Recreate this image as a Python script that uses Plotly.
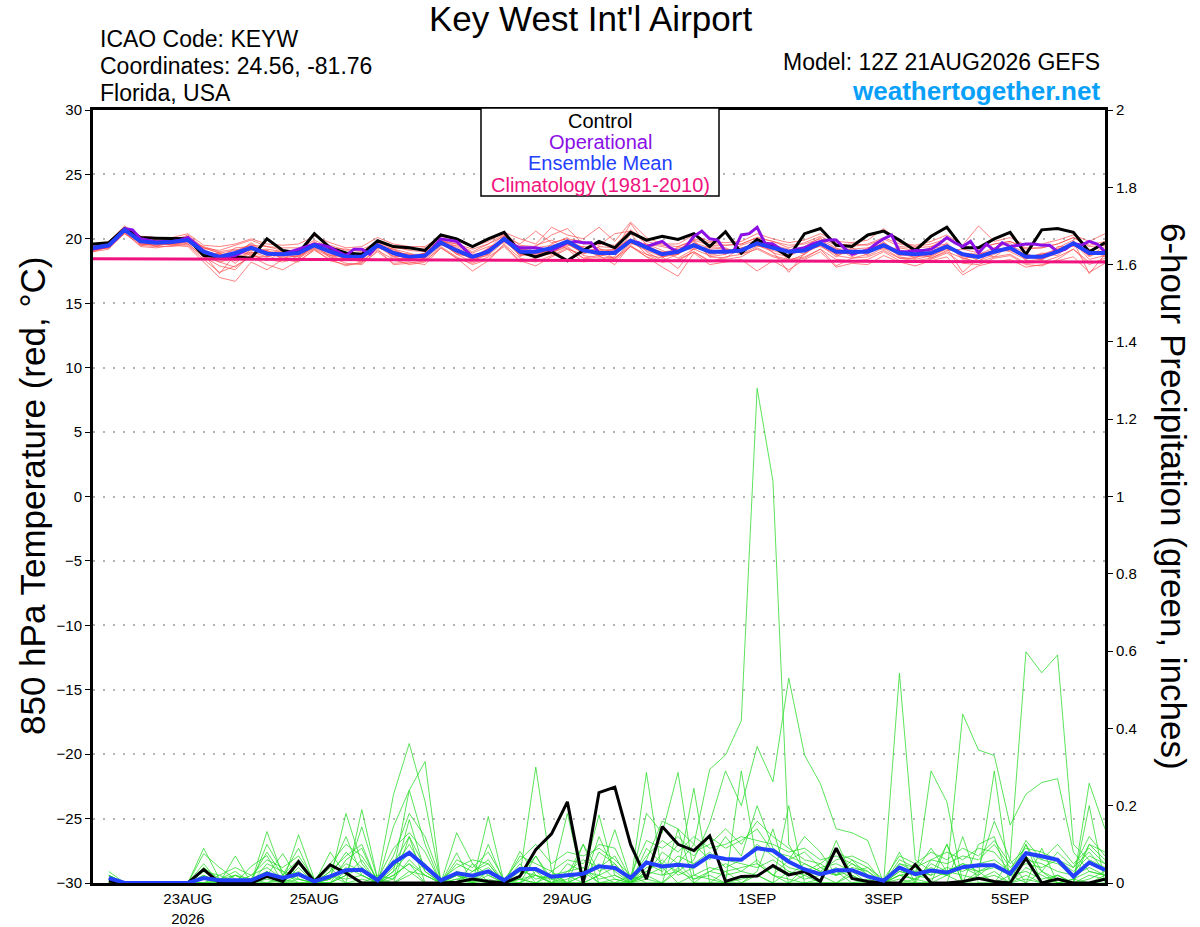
import pandas as pd
import plotly.graph_objects as go

# Ciclo GEFS 12Z 21AUG2026, pasos de 6 horas (0..384 h)
start = pd.Timestamp("2026-08-21 12:00")
end = pd.Timestamp("2026-09-06 12:00")

tick_dates = ["2026-08-23", "2026-08-25", "2026-08-27", "2026-08-29",
              "2026-09-01", "2026-09-03", "2026-09-05"]
tick_labels = ["23AUG<br>2026", "25AUG", "27AUG", "29AUG", "1SEP", "3SEP", "5SEP"]

# Temperatura 850 hPa (°C), 65 puntos cada 6 h
control_temp = [19.6, 19.7, 20.8, 20.1, 20.05, 20.0, 20.0, 18.7, 18.6, 18.6,
                18.5, 20.0, 19.1, 18.9, 20.4, 19.3, 18.9, 18.8, 19.85, 19.4,
                19.3, 19.1, 20.3, 20.0, 19.4, 20.0, 20.5, 19.0, 18.6, 19.0,
                18.3, 19.1, 19.8, 19.3, 20.5, 19.9, 20.2, 19.95, 20.4, 19.4,
                20.55, 18.9, 19.95, 19.4, 18.6, 20.4, 20.8, 19.5, 19.4, 20.3,
                20.6, 19.9, 19.1, 20.2, 20.9, 19.3, 19.3, 20.0, 20.5, 18.8,
                20.7, 20.8, 20.5, 19.0, 19.7]

mean_temp = [19.3, 19.5, 20.7, 19.8, 19.7, 19.75, 19.9, 19.0, 18.6, 18.9,
             19.3, 18.85, 18.8, 18.9, 19.5, 19.0, 18.6, 18.6, 19.5, 18.9,
             18.6, 18.7, 19.7, 19.1, 18.6, 19.0, 20.0, 19.0, 19.0, 19.3,
             19.8, 19.1, 18.9, 18.9, 19.85, 19.3, 18.8, 19.0, 19.5, 19.0,
             19.0, 19.1, 19.65, 19.3, 19.0, 19.1, 19.65, 19.0, 19.0, 19.0,
             19.5, 18.9, 18.8, 18.9, 19.4, 18.8, 18.6, 19.0, 19.3, 18.6,
             18.6, 19.0, 19.65, 18.9, 18.9]

# Operacional cada 3 h (129 puntos)
oper_temp = [19.2, 19.3, 19.45, 20.0, 20.8, 20.7, 20.0, 19.9, 19.75, 19.8,
             19.8, 19.9, 20.1, 19.6, 19.0, 18.8, 18.6, 18.6, 18.7, 19.0,
             19.35, 19.1, 18.9, 18.8, 18.8, 19.0, 19.2, 19.4, 19.6, 19.5,
             19.35, 19.0, 18.7, 19.2, 19.2, 18.8, 19.5, 19.2, 18.9, 18.7,
             18.6, 18.6, 18.7, 19.3, 20.0, 19.9, 19.8, 19.2, 18.6, 18.8,
             19.1, 19.5, 20.0, 19.6, 19.3, 19.3, 19.3, 19.2, 19.1, 19.4,
             19.7, 19.8, 19.7, 19.7, 18.9, 18.9, 19.0, 19.4, 19.85, 19.7,
             19.4, 19.6, 19.8, 19.3, 19.0, 19.4, 20.2, 20.6, 20.0, 19.9,
             19.0, 19.0, 20.3, 20.4, 20.9, 19.65, 19.6, 19.2, 19.0, 19.2,
             19.3, 19.6, 19.8, 19.9, 19.9, 19.3, 18.8, 19.0, 19.1, 19.6,
             20.0, 20.3, 19.0, 19.0, 19.1, 19.1, 19.2, 19.6, 20.1, 19.7,
             19.4, 19.8, 18.9, 19.6, 19.1, 19.7, 19.4, 19.5, 19.6, 19.6,
             19.5, 19.5, 19.0, 19.2, 19.65, 19.5, 19.8, 19.6, 19.0]

# Climatología 1981-2010, un valor diario
clim_temp = [18.45, 18.43, 18.42, 18.40, 18.38, 18.37, 18.35, 18.33, 18.31,
             18.30, 18.28, 18.27, 18.26, 18.25, 18.24, 18.22, 18.20]

# Miembros del ensamble (temperatura)
temp_m01 = [19.1, 19.4, 20.9, 19.6, 19.5, 19.6, 19.7, 18.9, 18.2, 18.5,
            19.0, 18.6, 18.9, 18.6, 19.3, 18.7, 18.3, 18.5, 19.7, 18.6,
            18.3, 18.5, 19.9, 19.2, 18.3, 18.8, 20.3, 18.8, 18.6, 19.6,
            20.1, 18.7, 18.5, 18.6, 20.4, 19.0, 18.3, 18.8, 19.9, 18.6,
            18.8, 19.5, 19.9, 18.9, 18.6, 19.4, 20.1, 18.7, 18.5, 18.8,
            19.8, 18.6, 18.4, 18.7, 19.7, 18.5, 18.2, 19.3, 19.7, 18.3,
            18.4, 19.3, 19.9, 18.6, 19.2]
temp_m02 = [19.4, 19.6, 20.5, 19.9, 19.9, 19.8, 20.3, 19.3, 18.9, 18.1,
            19.2, 19.1, 18.4, 19.2, 19.9, 19.3, 18.5, 18.2, 19.3, 19.2,
            18.9, 18.4, 19.5, 19.5, 18.9, 19.4, 19.7, 19.4, 19.2, 18.9,
            19.5, 19.4, 19.3, 18.4, 19.6, 19.6, 19.1, 18.5, 19.2, 19.4,
            19.3, 18.8, 19.4, 19.7, 18.3, 18.8, 19.9, 19.3, 18.6, 19.3,
            19.2, 19.3, 19.1, 18.5, 19.1, 19.2, 18.9, 18.6, 19.5, 18.9,
            18.3, 19.4, 19.4, 19.2, 18.6]
temp_m03 = [19.2, 19.3, 20.6, 19.8, 19.4, 19.9, 19.6, 18.6, 17.9, 17.6,
            18.8, 18.3, 19.0, 18.4, 19.6, 18.5, 18.9, 18.8, 19.9, 18.4,
            18.5, 18.9, 19.8, 18.8, 18.2, 19.2, 20.4, 18.6, 19.5, 19.9,
            19.2, 18.8, 19.4, 19.3, 20.0, 18.8, 18.5, 19.4, 19.8, 18.6,
            18.5, 19.3, 19.5, 19.0, 17.4, 18.9, 19.5, 18.6, 19.3, 18.7,
            19.3, 18.5, 18.5, 19.4, 19.6, 18.4, 18.8, 19.3, 19.0, 18.4,
            18.9, 18.7, 19.8, 18.4, 18.7]
temp_m04 = [19.3, 19.5, 20.8, 20.0, 19.8, 19.5, 19.8, 19.2, 18.5, 19.0,
            19.6, 18.8, 18.7, 19.1, 19.4, 19.2, 18.8, 18.4, 19.6, 19.1,
            18.7, 18.6, 19.6, 18.9, 18.5, 18.7, 19.8, 19.2, 18.8, 19.2,
            19.9, 19.3, 18.7, 19.0, 21.2, 19.5, 18.9, 18.8, 19.7, 19.3,
            19.2, 18.9, 19.8, 19.5, 19.2, 18.8, 19.7, 19.2, 19.2, 19.3,
            19.6, 18.8, 18.6, 18.7, 19.2, 18.9, 18.3, 18.8, 19.4, 18.5,
            18.8, 19.2, 19.6, 18.7, 19.4]
temp_m05 = [19.0, 19.4, 20.4, 19.7, 19.9, 19.9, 20.1, 19.0, 18.8, 18.9,
            18.9, 18.9, 19.1, 18.7, 19.3, 19.0, 18.4, 18.7, 19.4, 18.8,
            18.4, 18.8, 19.9, 19.4, 18.7, 19.1, 20.2, 18.9, 18.7, 19.0,
            19.6, 18.9, 19.0, 18.8, 19.8, 19.4, 18.6, 17.7, 19.3, 19.1,
            18.9, 19.2, 19.5, 19.1, 18.7, 19.2, 19.4, 18.8, 18.9, 19.1,
            19.7, 19.0, 18.5, 19.1, 19.3, 17.4, 18.5, 19.2, 19.3, 18.8,
            18.5, 19.1, 19.7, 18.9, 18.8]
temp_m06 = [19.4, 19.7, 20.5, 19.9, 19.9, 19.7, 20.0, 18.8, 17.3, 18.8,
            19.7, 18.9, 18.6, 19.0, 19.7, 19.2, 18.6, 18.5, 19.5, 19.0,
            18.8, 18.5, 19.7, 19.2, 18.4, 18.9, 19.9, 18.7, 18.9, 19.2,
            19.9, 19.1, 19.2, 19.0, 19.9, 19.2, 19.0, 19.1, 19.6, 18.8,
            19.1, 18.9, 19.7, 19.2, 19.0, 19.0, 19.8, 18.9, 19.1, 18.9,
            19.4, 18.7, 18.9, 19.0, 19.5, 18.7, 18.6, 19.0, 19.1, 18.6,
            18.4, 18.9, 19.5, 18.8, 19.0]
temp_m07 = [19.3, 19.3, 20.7, 19.7, 19.6, 19.8, 19.9, 19.4, 19.0, 19.2,
            18.7, 18.6, 18.9, 19.0, 19.5, 18.8, 18.5, 18.9, 19.3, 18.9,
            18.8, 18.8, 19.6, 19.0, 18.8, 18.9, 20.1, 19.1, 19.3, 19.5,
            19.7, 19.0, 18.9, 19.2, 19.8, 19.3, 18.8, 19.0, 19.4, 19.2,
            18.8, 19.3, 19.6, 19.3, 18.9, 19.3, 19.6, 19.1, 18.8, 19.0,
            19.4, 19.1, 18.9, 18.9, 19.4, 18.8, 18.7, 19.0, 19.2, 18.7,
            18.7, 19.1, 19.7, 19.0, 18.9]
temp_m08 = [19.5, 19.6, 20.9, 19.5, 19.7, 20.0, 19.8, 18.7, 18.8, 18.6,
            19.4, 19.0, 18.5, 18.7, 19.4, 18.7, 18.8, 18.3, 19.6, 18.7,
            18.5, 18.6, 19.8, 18.9, 18.6, 19.1, 20.0, 18.9, 18.8, 19.1,
            19.8, 19.2, 18.8, 18.5, 19.7, 19.1, 18.6, 18.8, 19.6, 18.9,
            19.2, 19.0, 19.8, 19.4, 19.1, 19.2, 19.6, 18.8, 19.0, 18.9,
            19.5, 18.9, 18.7, 18.8, 19.5, 18.6, 18.5, 19.1, 19.2, 18.5,
            18.6, 18.9, 19.8, 17.3, 18.8]
temp_m09 = [19.2, 19.5, 20.6, 19.9, 19.6, 19.6, 19.8, 19.3, 19.1, 19.5,
            19.9, 19.4, 19.3, 19.3, 19.6, 19.5, 19.1, 19.2, 19.7, 19.3,
            19.2, 19.3, 19.8, 19.6, 19.0, 19.6, 20.4, 19.5, 19.4, 20.3,
            20.8, 19.6, 19.6, 19.5, 20.7, 19.8, 19.5, 19.4, 19.9, 19.5,
            19.5, 19.6, 20.1, 19.8, 19.5, 19.6, 20.0, 19.5, 19.6, 19.5,
            20.0, 19.4, 19.3, 19.4, 20.0, 19.3, 19.2, 19.6, 19.8, 19.3,
            19.3, 19.6, 20.1, 19.4, 19.5]
temp_m10 = [19.1, 19.3, 20.4, 19.5, 19.4, 19.4, 19.6, 18.6, 18.2, 17.8,
            18.7, 18.4, 18.2, 18.5, 19.2, 18.6, 18.1, 18.0, 19.1, 18.4,
            18.0, 18.2, 19.4, 18.6, 18.0, 18.4, 19.6, 18.5, 18.2, 18.7,
            19.3, 18.5, 18.4, 18.3, 19.4, 18.8, 18.2, 18.3, 19.0, 18.3,
            18.4, 18.6, 19.3, 18.7, 18.4, 18.6, 19.2, 18.4, 18.3, 18.4,
            19.0, 18.3, 18.2, 18.4, 18.9, 18.1, 18.0, 18.5, 18.7, 18.0,
            17.9, 18.4, 19.2, 18.2, 18.3]
temp_m11 = [19.4, 19.5, 20.6, 20.0, 19.8, 19.8, 20.2, 19.1, 18.4, 18.9,
            19.1, 19.2, 19.0, 18.8, 19.8, 18.9, 18.6, 18.9, 19.4, 18.6,
            18.7, 18.6, 19.8, 19.3, 18.5, 19.3, 19.9, 19.2, 19.0, 18.8,
            19.9, 19.3, 18.6, 19.1, 19.9, 19.4, 18.9, 19.2, 19.2, 18.7,
            19.0, 19.0, 19.6, 19.4, 18.9, 19.1, 19.7, 19.2, 18.9, 19.2,
            19.5, 19.1, 18.8, 18.6, 19.3, 18.9, 18.8, 19.1, 19.4, 18.6,
            18.5, 19.2, 19.6, 18.7, 19.1]
temp_m12 = [19.3, 19.6, 20.9, 19.8, 19.8, 19.9, 19.8, 18.9, 18.5, 19.3,
            19.4, 18.7, 18.9, 19.2, 19.4, 19.1, 18.7, 18.6, 19.6, 19.2,
            18.6, 18.9, 19.6, 19.1, 18.7, 18.8, 20.1, 19.0, 18.9, 19.4,
            19.6, 18.9, 19.1, 19.2, 20.0, 19.2, 18.7, 19.3, 19.5, 19.1,
            19.1, 19.2, 19.7, 19.2, 19.1, 19.0, 19.5, 19.0, 19.1, 19.0,
            19.4, 18.8, 18.9, 19.2, 19.5, 18.9, 18.6, 18.9, 19.3, 18.7,
            18.7, 19.0, 19.6, 19.0, 18.8]
temp_m13 = [19.2, 19.4, 20.7, 19.6, 19.6, 19.7, 19.9, 18.7, 18.9, 18.3,
            18.9, 19.1, 18.7, 18.6, 19.5, 18.9, 18.4, 18.7, 19.5, 18.8,
            18.5, 18.9, 19.7, 18.8, 18.6, 19.2, 19.8, 18.8, 18.9, 19.3,
            19.7, 19.0, 18.9, 18.9, 19.7, 19.3, 18.6, 18.9, 19.6, 18.9,
            19.0, 19.1, 19.5, 19.2, 19.0, 19.3, 19.6, 18.9, 18.9, 19.1,
            19.5, 18.8, 18.7, 18.8, 19.3, 18.8, 18.7, 19.0, 19.2, 18.6,
            18.8, 19.0, 19.7, 18.8, 18.9]
temp_m14 = [19.4, 19.6, 20.7, 19.9, 19.7, 19.8, 20.0, 19.1, 18.7, 18.9,
            19.3, 18.9, 18.9, 18.9, 19.5, 19.1, 18.7, 18.5, 19.4, 19.0,
            18.7, 18.7, 19.7, 19.0, 18.6, 19.0, 20.0, 19.0, 19.1, 19.2,
            19.8, 19.1, 18.9, 18.9, 19.8, 19.3, 18.8, 19.0, 19.5, 19.0,
            19.0, 19.1, 19.7, 19.3, 19.0, 19.1, 19.7, 19.0, 19.0, 19.0,
            19.5, 18.9, 18.8, 18.9, 19.4, 18.8, 18.6, 19.0, 19.3, 18.6,
            18.6, 19.0, 19.6, 18.9, 18.9]
temp_m15 = [19.0, 19.2, 20.5, 19.4, 19.3, 19.5, 19.4, 18.2, 17.0, 16.7,
            18.2, 17.6, 18.4, 18.2, 19.2, 18.3, 18.0, 18.1, 19.0, 18.1,
            18.2, 18.0, 19.3, 18.5, 17.5, 18.3, 19.5, 18.3, 17.9, 18.6,
            19.2, 18.2, 18.4, 18.5, 19.4, 18.6, 17.8, 17.1, 18.9, 18.0,
            18.2, 18.4, 17.5, 18.3, 17.6, 18.4, 19.0, 17.8, 18.1, 18.0,
            18.7, 18.2, 17.9, 18.3, 18.6, 17.2, 17.9, 18.2, 18.4, 17.8,
            18.0, 18.3, 18.6, 17.4, 18.1]
temp_m16 = [19.5, 19.8, 21.0, 20.2, 20.1, 20.1, 20.4, 19.5, 19.4, 19.6,
            20.0, 19.6, 19.5, 19.6, 20.2, 19.7, 19.3, 19.4, 20.1, 19.6,
            19.4, 19.4, 20.2, 19.9, 19.4, 19.8, 20.5, 20.0, 19.6, 20.9,
            20.3, 20.0, 20.9, 19.8, 21.3, 20.1, 19.6, 19.6, 20.3, 19.8,
            19.7, 19.8, 20.4, 20.0, 19.7, 19.9, 20.4, 19.8, 19.7, 19.9,
            20.8, 19.7, 19.5, 19.8, 20.3, 19.5, 21.0, 19.8, 20.1, 19.5,
            19.6, 19.9, 20.3, 19.8, 20.4]
temp_m17 = [19.2, 19.5, 20.6, 19.6, 19.5, 19.6, 19.5, 18.4, 17.4, 17.9,
            18.6, 18.0, 17.6, 18.3, 19.1, 18.4, 17.9, 18.2, 19.2, 18.0,
            18.1, 18.3, 19.3, 18.5, 18.1, 18.6, 19.4, 18.2, 18.5, 18.9,
            19.4, 18.5, 18.7, 18.0, 19.5, 18.6, 18.2, 18.4, 19.0, 18.2,
            18.6, 18.8, 19.2, 18.6, 18.3, 18.5, 19.2, 17.9, 18.5, 18.6,
            19.1, 18.5, 18.3, 18.5, 19.0, 18.5, 18.2, 18.6, 18.8, 18.1,
            18.2, 18.6, 19.2, 18.0, 18.5]
temp_m18 = [19.4, 19.6, 20.8, 19.9, 19.8, 19.9, 19.9, 19.3, 18.9, 19.1,
            19.5, 19.4, 19.1, 19.0, 19.6, 19.3, 19.2, 19.0, 19.8, 19.4,
            19.1, 19.0, 19.9, 19.6, 19.2, 19.6, 20.2, 19.6, 20.6, 19.7,
            20.0, 19.8, 19.5, 20.4, 20.6, 19.6, 19.4, 19.1, 20.0, 19.7,
            19.5, 19.6, 20.1, 19.8, 19.3, 19.7, 20.2, 19.6, 19.4, 19.6,
            20.1, 19.6, 19.4, 19.6, 20.0, 19.4, 19.3, 19.6, 19.8, 19.2,
            19.3, 19.6, 20.1, 19.5, 19.8]

# Precipitación 6 h (pulgadas), 64 puntos desde +6 h
control_prcp = [0.005, 0, 0, 0, 0, 0, 0.035, 0,
                0, 0, 0.017, 0.004, 0.055, 0.004, 0.047, 0.026,
                0, 0, 0, 0, 0, 0, 0.002, 0.01,
                0.004, 0, 0.017, 0.086, 0.127, 0.21, 0, 0.234,
                0.248, 0.099, 0.01, 0.146, 0.1, 0.084, 0.122, 0.004,
                0.017, 0.018, 0.045, 0.021, 0.03, 0.004, 0.09, 0.012,
                0.004, 0, 0, 0.048, 0, 0, 0.004, 0.012,
                0.004, 0, 0.064, 0, 0.01, 0, 0, 0.01]

mean_prcp = [0.013, 0, 0, 0, 0, 0, 0.013, 0.007,
             0.007, 0.007, 0.024, 0.013, 0.023, 0.004, 0.017, 0.033,
             0.034, 0.007, 0.052, 0.078, 0.043, 0.007, 0.025, 0.019,
             0.03, 0.007, 0.036, 0.036, 0.016, 0.02, 0.024, 0.043,
             0.039, 0.013, 0.053, 0.043, 0.047, 0.043, 0.07, 0.062,
             0.06, 0.09, 0.084, 0.055, 0.035, 0.023, 0.033, 0.033,
             0.017, 0.006, 0.04, 0.023, 0.032, 0.027, 0.041, 0.046,
             0.046, 0.024, 0.077, 0.069, 0.06, 0.017, 0.053, 0.034]

prcp_m01 = [0.02, 0, 0, 0, 0, 0, 0.09, 0.01,
            0, 0.01, 0.03, 0, 0.02, 0, 0.01, 0.05,
            0.03, 0, 0.05, 0.12, 0.04, 0, 0.02, 0.01,
            0.03, 0, 0.02, 0.07, 0.01, 0.02, 0.1, 0.03,
            0.05, 0, 0.06, 0.16, 0.14, 0.1, 0.294, 0.331,
            0.42, 1.28, 1.04, 0.1, 0.03, 0.02, 0.04, 0.01,
            0, 0, 0.02, 0.01, 0.03, 0.02, 0.04, 0.03,
            0.05, 0.02, 0.1, 0.03, 0.01, 0, 0.02, 0.01]
prcp_m02 = [0.01, 0, 0, 0, 0, 0, 0.02, 0,
            0.07, 0, 0.133, 0.02, 0.01, 0, 0.02, 0.01,
            0.02, 0, 0.03, 0.24, 0.1, 0, 0.03, 0,
            0.02, 0, 0.01, 0.02, 0, 0.03, 0.04, 0.01,
            0.02, 0, 0.04, 0.05, 0.03, 0.06, 0.155, 0.29,
            0.2, 0.353, 0.262, 0.53, 0.331, 0.257, 0.14, 0.13,
            0.11, 0, 0.02, 0.01, 0.05, 0.03, 0.02, 0.01,
            0.03, 0, 0.04, 0.02, 0, 0.01, 0.03, 0.02]
prcp_m03 = [0.03, 0, 0, 0, 0, 0, 0.076, 0.04,
            0.01, 0, 0.1, 0.03, 0, 0, 0.01, 0.18,
            0.05, 0, 0.02, 0.05, 0.02, 0, 0.13, 0.05,
            0, 0, 0.02, 0.3, 0.03, 0, 0.02, 0.176,
            0.02, 0, 0.03, 0.02, 0.05, 0.01, 0.03, 0.02,
            0.03, 0.02, 0.04, 0.02, 0.05, 0.03, 0.02, 0.06,
            0.02, 0, 0.543, 0.06, 0.03, 0.02, 0.04, 0.02,
            0.05, 0.02, 0.03, 0.01, 0.02, 0, 0.01, 0.03]
prcp_m04 = [0, 0, 0, 0, 0, 0, 0, 0,
            0, 0.043, 0.071, 0, 0.125, 0.01, 0.02, 0,
            0.19, 0.01, 0, 0.02, 0.05, 0, 0.02, 0,
            0.1, 0, 0.082, 0.02, 0.01, 0.18, 0, 0.02,
            0.138, 0.01, 0.02, 0.04, 0, 0.02, 0.04, 0.03,
            0.04, 0.05, 0.02, 0.06, 0.12, 0.08, 0.02, 0.03,
            0.04, 0, 0.02, 0.03, 0.09, 0.03, 0.05, 0.04,
            0.16, 0.06, 0.598, 0.544, 0.59, 0.1, 0.06, 0.04]
prcp_m05 = [0.015, 0, 0, 0, 0, 0, 0.05, 0,
            0.02, 0, 0.02, 0.076, 0.01, 0, 0.08, 0.02,
            0.145, 0.01, 0.228, 0.361, 0.211, 0, 0.01, 0.02,
            0, 0.01, 0, 0.02, 0, 0.01, 0.03, 0,
            0.01, 0, 0.286, 0.02, 0.03, 0.01, 0.02, 0,
            0.01, 0.02, 0, 0.03, 0.01, 0.02, 0.03, 0,
            0.01, 0, 0.03, 0.02, 0.04, 0.02, 0.437, 0.344,
            0.33, 0.15, 0.23, 0.26, 0.27, 0.08, 0.03, 0.02]
prcp_m06 = [0, 0, 0, 0, 0, 0, 0.01, 0,
            0, 0.01, 0, 0.02, 0.09, 0, 0.03, 0.12,
            0.02, 0, 0.146, 0.24, 0.314, 0, 0.078, 0,
            0.172, 0, 0.01, 0, 0.02, 0, 0, 0.12,
            0.03, 0, 0.18, 0.13, 0.286, 0.02, 0.01, 0,
            0.29, 0.05, 0.02, 0.01, 0, 0.01, 0.11, 0.02,
            0, 0, 0.01, 0, 0.29, 0.21, 0, 0.01,
            0.02, 0, 0.01, 0, 0.02, 0, 0.258, 0.14]
prcp_m07 = [0.01, 0, 0, 0, 0, 0, 0, 0.02,
            0, 0, 0.01, 0, 0, 0, 0, 0.03,
            0, 0.02, 0.01, 0.164, 0.03, 0, 0, 0.05,
            0.02, 0, 0, 0.07, 0, 0, 0.04, 0,
            0, 0.02, 0, 0, 0.03, 0.245, 0, 0.03,
            0, 0.03, 0.14, 0, 0.02, 0, 0, 0.03,
            0, 0, 0.08, 0, 0, 0.1, 0, 0.02,
            0.29, 0, 0.1, 0, 0.02, 0, 0.2, 0]
prcp_m08 = [0, 0, 0, 0, 0, 0, 0, 0,
            0, 0, 0, 0, 0, 0, 0, 0,
            0.01, 0, 0, 0.12, 0, 0, 0, 0,
            0, 0, 0, 0, 0, 0, 0.1, 0,
            0, 0, 0, 0, 0.14, 0, 0, 0,
            0, 0, 0, 0.2, 0, 0, 0, 0,
            0, 0, 0, 0, 0, 0, 0.12, 0,
            0, 0.06, 0, 0.09, 0, 0, 0.1, 0.08]
prcp_m09 = [0.02, 0, 0, 0, 0, 0, 0, 0,
            0.01, 0, 0.02, 0, 0.01, 0, 0, 0.02,
            0.04, 0, 0.01, 0.06, 0.02, 0, 0.01, 0,
            0.03, 0, 0.02, 0.04, 0.01, 0, 0.02, 0.05,
            0.01, 0, 0.03, 0.06, 0.02, 0.04, 0.07, 0.06,
            0.05, 0.04, 0.06, 0.03, 0.02, 0.04, 0.05, 0.03,
            0.02, 0, 0.03, 0.02, 0.01, 0.03, 0.05, 0.03,
            0.04, 0.02, 0.06, 0.05, 0.03, 0.02, 0.04, 0.02]
prcp_m10 = [0, 0, 0, 0, 0, 0, 0.01, 0,
            0, 0.02, 0.04, 0.01, 0.03, 0, 0.01, 0.04,
            0.02, 0, 0.03, 0.08, 0.05, 0, 0.03, 0.02,
            0.04, 0, 0.03, 0.02, 0, 0.05, 0.03, 0.02,
            0.04, 0, 0.05, 0.03, 0.07, 0.05, 0.08, 0.04,
            0.06, 0.1, 0.07, 0.04, 0.03, 0.05, 0.02, 0.04,
            0.03, 0, 0.05, 0.03, 0.02, 0.04, 0.03, 0.05,
            0.06, 0.03, 0.05, 0.04, 0.06, 0.03, 0.07, 0.05]
prcp_m11 = [0.01, 0, 0, 0, 0, 0, 0.03, 0,
            0.02, 0, 0.05, 0.03, 0.02, 0, 0, 0.06,
            0.09, 0, 0.04, 0.1, 0.03, 0, 0.05, 0.03,
            0.05, 0, 0.04, 0.01, 0.02, 0.03, 0.06, 0.04,
            0.07, 0, 0.09, 0.05, 0.1, 0.07, 0.12, 0.09,
            0.11, 0.14, 0.08, 0.07, 0.05, 0.03, 0.06, 0.07,
            0.05, 0, 0.04, 0, 0.06, 0.05, 0.07, 0.06,
            0.1, 0.04, 0.08, 0.06, 0.05, 0.02, 0.1, 0.06]
prcp_m12 = [0, 0, 0, 0, 0, 0, 0.02, 0,
            0, 0, 0.03, 0, 0.04, 0, 0, 0.02,
            0.06, 0, 0.02, 0.05, 0, 0, 0.02, 0,
            0.01, 0, 0, 0.03, 0, 0, 0, 0.02,
            0, 0, 0.02, 0, 0.04, 0, 0.03, 0.05,
            0.03, 0.06, 0.02, 0, 0.04, 0.02, 0, 0.02,
            0, 0, 0, 0.01, 0, 0.02, 0, 0.03,
            0, 0.02, 0, 0.03, 0, 0.01, 0, 0.02]
prcp_m13 = [0, 0, 0, 0, 0, 0, 0, 0.01,
            0.03, 0, 0, 0.01, 0, 0, 0.04, 0,
            0, 0, 0, 0.03, 0, 0, 0, 0.01,
            0, 0, 0.01, 0, 0, 0.02, 0, 0,
            0, 0, 0.01, 0, 0, 0, 0, 0,
            0, 0.02, 0, 0, 0, 0, 0, 0,
            0, 0, 0, 0, 0, 0, 0, 0,
            0, 0, 0.02, 0, 0, 0, 0, 0]
prcp_m14 = [0, 0, 0, 0, 0, 0, 0, 0,
            0, 0, 0.02, 0, 0.05, 0, 0.02, 0.08,
            0.04, 0, 0.06, 0.03, 0.02, 0, 0, 0.03,
            0.06, 0, 0.05, 0, 0.03, 0, 0, 0.08,
            0.05, 0, 0.02, 0.08, 0.05, 0.1, 0.06, 0.12,
            0.07, 0.2, 0.09, 0.06, 0.08, 0.04, 0.02, 0.05,
            0.02, 0, 0.06, 0.04, 0.02, 0.1, 0, 0.1,
            0.12, 0, 0.07, 0.03, 0.08, 0.04, 0.08, 0.03]
prcp_m15 = [0.01, 0, 0, 0, 0, 0, 0.03, 0.02,
            0.04, 0.02, 0.06, 0.04, 0.07, 0.01, 0.05, 0.1,
            0.07, 0.01, 0.09, 0.13, 0.08, 0, 0.06, 0.04,
            0.08, 0.01, 0.06, 0.1, 0.05, 0.08, 0.07, 0.09,
            0.06, 0.02, 0.11, 0.09, 0.12, 0.08, 0.1, 0.14,
            0.1, 0.16, 0.12, 0.09, 0.06, 0.05, 0.08, 0.06,
            0.04, 0.01, 0.07, 0.05, 0.08, 0.06, 0.09, 0.07,
            0.11, 0.05, 0.09, 0.08, 0.06, 0.04, 0.12, 0.07]
prcp_m16 = [0.02, 0, 0, 0, 0, 0, 0.04, 0.01,
            0.02, 0.01, 0.08, 0.02, 0.06, 0, 0.03, 0.07,
            0.1, 0, 0.07, 0.18, 0.12, 0.01, 0.04, 0.06,
            0.05, 0, 0.07, 0.05, 0.03, 0.06, 0.05, 0.1,
            0.09, 0.01, 0.07, 0.11, 0.08, 0.12, 0.09, 0.1,
            0.12, 0.11, 0.1, 0.08, 0.09, 0.06, 0.07, 0.05,
            0.03, 0, 0.05, 0.04, 0.06, 0.08, 0.06, 0.09,
            0.08, 0.03, 0.11, 0.06, 0.1, 0.05, 0.09, 0.05]

temp_members = [temp_m01, temp_m02, temp_m03, temp_m04, temp_m05, temp_m06,
                temp_m07, temp_m08, temp_m09, temp_m10, temp_m11, temp_m12,
                temp_m13, temp_m14, temp_m15, temp_m16, temp_m17, temp_m18]
prcp_members = [prcp_m01, prcp_m02, prcp_m03, prcp_m04, prcp_m05, prcp_m06,
                prcp_m07, prcp_m08, prcp_m09, prcp_m10, prcp_m11, prcp_m12,
                prcp_m13, prcp_m14, prcp_m15, prcp_m16]

# Ejes de tiempo
times_6h = pd.date_range(start, periods=len(mean_temp), freq="6h")
times_prcp = pd.date_range(start + pd.Timedelta(hours=6), periods=len(mean_prcp), freq="6h")
times_3h = pd.date_range(start, periods=len(oper_temp), freq="3h")
times_clim = pd.date_range(start, periods=len(clim_temp), freq="24h")

PURPLE = "#8a10e6"
BLUE = "#2340ff"
PINK = "#f0127e"
FONT = "Liberation Sans, Arial, sans-serif"

fig = go.Figure()

# Miembros de temperatura (rojo)
for m in temp_members:
    fig.add_trace(go.Scatter(x=times_6h, y=m, mode="lines",
                             line=dict(color="rgba(255,70,70,0.75)", width=0.9),
                             hoverinfo="skip"))
fig.add_trace(go.Scatter(x=times_6h, y=control_temp, mode="lines", line=dict(color="black", width=3)))
fig.add_trace(go.Scatter(x=times_3h, y=oper_temp, mode="lines", line=dict(color=PURPLE, width=3)))
fig.add_trace(go.Scatter(x=times_6h, y=mean_temp, mode="lines", line=dict(color=BLUE, width=4)))
fig.add_trace(go.Scatter(x=times_clim, y=clim_temp, mode="lines", line=dict(color=PINK, width=3)))

# Miembros de precipitación (verde) en el eje derecho
for m in prcp_members:
    fig.add_trace(go.Scatter(x=times_prcp, y=m, mode="lines", yaxis="y2",
                             line=dict(color="rgba(40,220,40,0.85)", width=0.9),
                             hoverinfo="skip"))
fig.add_trace(go.Scatter(x=times_prcp, y=control_prcp, mode="lines", yaxis="y2",
                         line=dict(color="black", width=3)))
fig.add_trace(go.Scatter(x=times_prcp, y=mean_prcp, mode="lines", yaxis="y2",
                         line=dict(color=BLUE, width=4)))


# posiciones en pixeles -> coordenadas "paper"
def px_x(px):
    return (px - 93) / 1012.0


def px_y(py):
    return (883 - py) / 773.0


annotations = [
    dict(text="Key West Int'l Airport", x=px_x(590), y=px_y(19), font=dict(size=35)),
    dict(text="ICAO Code: KEYW", x=px_x(98), y=px_y(39), xanchor="left", font=dict(size=23)),
    dict(text="Coordinates: 24.56, -81.76", x=px_x(98), y=px_y(66), xanchor="left", font=dict(size=23)),
    dict(text="Florida, USA", x=px_x(98), y=px_y(93), xanchor="left", font=dict(size=23)),
    dict(text="Model: 12Z 21AUG2026 GEFS", x=px_x(1102), y=px_y(62), xanchor="right", font=dict(size=23)),
    dict(text="<b>weathertogether.net</b>", x=px_x(1102), y=px_y(91), xanchor="right",
         font=dict(size=26, color="#08a0f8")),
    dict(text="Control", x=px_x(600), y=px_y(121), font=dict(size=20)),
    dict(text="Operational", x=px_x(600), y=px_y(142), font=dict(size=20, color=PURPLE)),
    dict(text="Ensemble Mean", x=px_x(600), y=px_y(163), font=dict(size=20, color=BLUE)),
    dict(text="Climatology (1981-2010)", x=px_x(600), y=px_y(185), font=dict(size=20, color=PINK)),
    dict(text="850 hPa Temperature (red, °C)", x=px_x(32), y=px_y(496), textangle=-90,
         font=dict(size=35)),
    dict(text="6-hour Precipitation (green, inches)", x=px_x(1174), y=px_y(496), textangle=90,
         font=dict(size=35)),
]
for a in annotations:
    a.update(xref="paper", yref="paper", showarrow=False)
    a.setdefault("xanchor", "center")
    a["yanchor"] = "middle"
    a["font"].setdefault("color", "black")
    a["font"]["family"] = FONT

fig.update_layout(
    width=1200,
    height=927,
    margin=dict(l=93, r=95, t=110, b=44),
    paper_bgcolor="white",
    plot_bgcolor="white",
    showlegend=False,
    font=dict(family=FONT, color="black", size=15),
    annotations=annotations,
    shapes=[dict(type="rect", xref="paper", yref="paper",
                 x0=px_x(481), x1=px_x(719), y0=px_y(196), y1=px_y(108),
                 line=dict(color="black", width=1.5), fillcolor="white", layer="above")],
    xaxis=dict(
        type="date",
        range=[start, end],
        tickvals=tick_dates,
        ticktext=tick_labels,
        ticks="",
        showgrid=False,
        showline=True,
        linewidth=3,
        linecolor="black",
        mirror=True,
        automargin=False,
        tickfont=dict(size=15),
    ),
    yaxis=dict(
        range=[-30, 30],
        tick0=-30,
        dtick=5,
        ticks="outside",
        ticklen=5,
        tickwidth=1,
        tickcolor="black",
        showline=True,
        linewidth=3,
        linecolor="black",
        showgrid=True,
        gridcolor="#b4b4b4",
        griddash="2px,8px",
        gridwidth=1.5,
        zeroline=False,
        automargin=False,
        tickfont=dict(size=15),
    ),
    yaxis2=dict(
        range=[0, 2],
        tick0=0,
        dtick=0.2,
        overlaying="y",
        side="right",
        ticks="outside",
        ticklen=5,
        tickwidth=1,
        tickcolor="black",
        showline=True,
        linewidth=3,
        linecolor="black",
        showgrid=False,
        zeroline=False,
        automargin=False,
        tickfont=dict(size=15),
    ),
)

# sin margen del body para que el lienzo empiece en (0, 0); sin barra de herramientas
fig.write_html("out.html", config={"displayModeBar": False},
               post_script="document.body.style.margin='0';")
